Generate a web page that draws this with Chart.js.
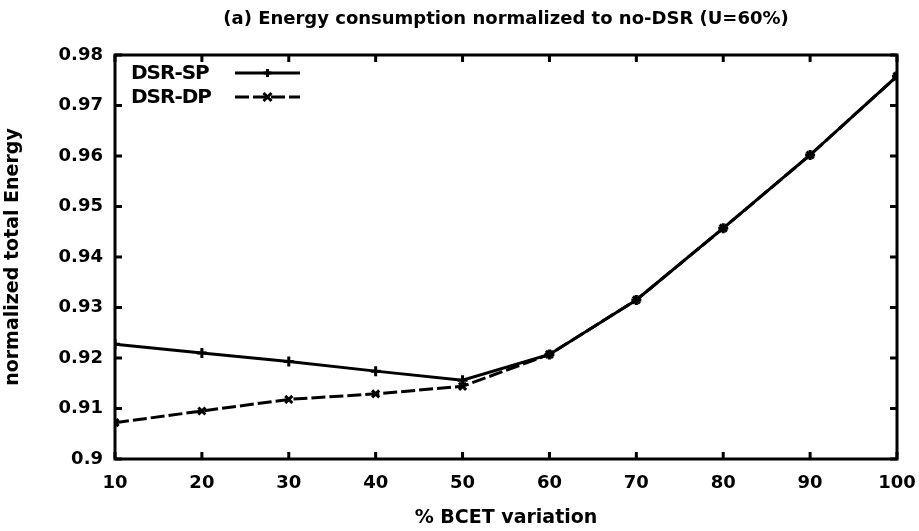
<!DOCTYPE html>
<html>
<head>
<meta charset="utf-8">
<script src="https://cdn.jsdelivr.net/npm/chart.js@4.4.0/dist/chart.umd.min.js"></script>
<style>
    html, body { margin: 0; padding: 0; background: #ffffff; }
    #wrap { width: 919px; height: 531px; }
</style>
</head>
<body>
<div id="wrap"><canvas id="energyChart" width="919" height="531"></canvas></div>
<script>
const bcetVariation = [10, 20, 30, 40, 50, 60, 70, 80, 90, 100];
const dsrSP = [0.9227, 0.9210, 0.9193, 0.9174, 0.9156, 0.9207, 0.9315, 0.9457, 0.9602, 0.9758];
const dsrDP = [0.9072, 0.9095, 0.9118, 0.9129, 0.9144, 0.9207, 0.9315, 0.9457, 0.9602, 0.9758];
const yTicks = [0.9, 0.91, 0.92, 0.93, 0.94, 0.95, 0.96, 0.97, 0.98];
const chartTitle = '(a) Energy consumption normalized to no-DSR (U=60%)';

const FONT = '"DejaVu Sans", "Liberation Sans", sans-serif';
const INK = '#000000';

// gnuplot-like frame: full box with inward ticks on all sides, title, inside legend
const framePlugin = {
    id: 'frame',
    afterDatasetsDraw(chart) {
        const { ctx, chartArea: a, scales } = chart;
        ctx.save();
        ctx.strokeStyle = INK;
        ctx.lineWidth = 3;
        ctx.strokeRect(a.left, a.top, a.right - a.left, a.bottom - a.top);

        const len = 7;
        ctx.beginPath();
        bcetVariation.forEach(v => {
            const x = scales.x.getPixelForValue(v);
            ctx.moveTo(x, a.bottom); ctx.lineTo(x, a.bottom - len);
            ctx.moveTo(x, a.top); ctx.lineTo(x, a.top + len);
        });
        yTicks.forEach(v => {
            const y = scales.y.getPixelForValue(v);
            ctx.moveTo(a.left, y); ctx.lineTo(a.left + len, y);
            ctx.moveTo(a.right, y); ctx.lineTo(a.right - len, y);
        });
        ctx.stroke();

        // title
        ctx.fillStyle = INK;
        ctx.font = 'bold 18px ' + FONT;
        ctx.textAlign = 'center';
        ctx.textBaseline = 'middle';
        ctx.fillText(chartTitle, (a.left + a.right) / 2, 19);

        // legend
        ctx.font = 'bold 20px ' + FONT;
        ctx.letterSpacing = '-1px';
        ctx.textAlign = 'left';
        chart.data.datasets.forEach((ds, i) => {
            const y = a.top + 18 + i * 24;
            ctx.fillText(ds.label, a.left + 16, y + 1);
            const x0 = a.left + 120, x1 = a.left + 185;
            ctx.lineWidth = 3;
            ctx.setLineDash(ds.borderDash || []);
            ctx.beginPath();
            ctx.moveTo(x0, y); ctx.lineTo(x1, y);
            ctx.stroke();
            ctx.setLineDash([]);
            const xm = (x0 + x1) / 2, r = 4;
            ctx.beginPath();
            if (ds.pointStyle === 'cross') {
                ctx.moveTo(xm, y - r); ctx.lineTo(xm, y + r);
                ctx.moveTo(xm - r, y); ctx.lineTo(xm + r, y);
            } else {
                ctx.moveTo(xm - r, y - r); ctx.lineTo(xm + r, y + r);
                ctx.moveTo(xm - r, y + r); ctx.lineTo(xm + r, y - r);
            }
            ctx.stroke();
        });
        ctx.restore();
    }
};

const ctx = document.getElementById('energyChart').getContext('2d');
new Chart(ctx, {
    type: 'line',
    data: {
        labels: bcetVariation,
        datasets: [{
            label: 'DSR-SP',
            data: bcetVariation.map((x, i) => ({ x: x, y: dsrSP[i] })),
            borderColor: INK,
            backgroundColor: INK,
            borderWidth: 3,
            pointStyle: 'cross',
            pointRadius: 5,
            pointBorderWidth: 3,
            tension: 0
        }, {
            label: 'DSR-DP',
            data: bcetVariation.map((x, i) => ({ x: x, y: dsrDP[i] })),
            borderColor: INK,
            backgroundColor: INK,
            borderWidth: 3,
            borderDash: [14, 4],
            pointStyle: 'crossRot',
            pointRadius: 5,
            pointBorderWidth: 3,
            tension: 0
        }]
    },
    options: {
        responsive: false,
        animation: false,
        layout: { padding: { top: 55, right: 22, left: 0, bottom: 0 } },
        plugins: {
            legend: { display: false },
            title: { display: false },
            tooltip: { enabled: false }
        },
        scales: {
            x: {
                type: 'linear',
                min: 10,
                max: 100,
                afterFit: s => { s.height = 72; s.paddingLeft = 0; s.paddingRight = 0; },
                afterBuildTicks: s => { s.ticks = bcetVariation.map(v => ({ value: v })); },
                grid: { display: false, drawTicks: false },
                border: { display: false },
                ticks: {
                    color: INK,
                    padding: 14,
                    maxRotation: 0,
                    font: { family: FONT, size: 18, weight: 'bold' }
                },
                title: {
                    display: true,
                    text: '% BCET variation',
                    color: INK,
                    padding: { top: 4, bottom: 2 },
                    font: { family: FONT, size: 19, weight: 'bold' }
                }
            },
            y: {
                type: 'linear',
                min: 0.9,
                max: 0.98,
                afterFit: s => { s.width = 115; s.paddingTop = 0; s.paddingBottom = 0; },
                afterBuildTicks: s => { s.ticks = yTicks.map(v => ({ value: v })); },
                grid: { display: false, drawTicks: false },
                border: { display: false },
                ticks: {
                    color: INK,
                    padding: 12,
                    font: { family: FONT, size: 18, weight: 'bold' },
                    callback: v => String(Math.round(v * 100) / 100)
                },
                title: {
                    display: true,
                    text: 'normalized total Energy',
                    color: INK,
                    padding: { top: 2, bottom: 4 },
                    font: { family: FONT, size: 19, weight: 'bold' }
                }
            }
        }
    },
    plugins: [framePlugin]
});
</script>
</body>
</html>
